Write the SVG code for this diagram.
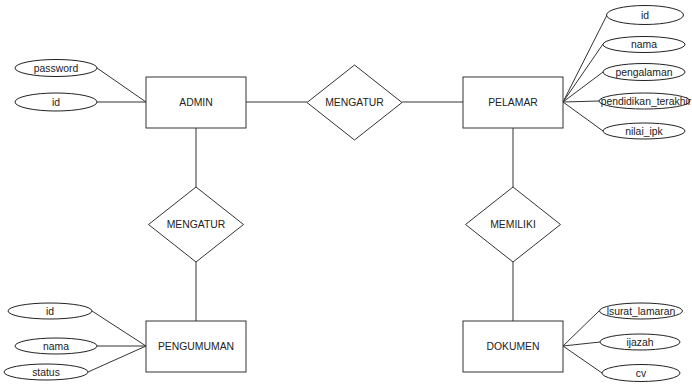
<svg xmlns="http://www.w3.org/2000/svg" width="692" height="385" viewBox="0 0 692 385">
<style>
.ent{fill:#fff;stroke:#333;stroke-width:1}
.rel{fill:#fff;stroke:#333;stroke-width:1}
.att{fill:#fff;stroke:#222;stroke-width:1}
.al{stroke:#333;stroke-width:1;fill:none}
.cl{stroke:#777;stroke-width:1.5;fill:none}
text{font-family:"Liberation Sans",Arial,sans-serif;font-size:10.4px;fill:#222;text-anchor:middle;dominant-baseline:central}
</style>
<rect width="692" height="385" fill="#fff"/>
<g id="connectors">
<line class="cl" x1="246" y1="102" x2="307" y2="102"/>
<line class="cl" x1="402" y1="102" x2="463" y2="102"/>
<line class="cl" x1="196" y1="128" x2="196" y2="187"/>
<line class="cl" x1="196" y1="262" x2="196" y2="321"/>
<line class="cl" x1="513" y1="128" x2="513" y2="187"/>
<line class="cl" x1="513" y1="262" x2="513" y2="321"/>
<line class="al" x1="97" y1="68" x2="146" y2="102"/>
<line class="al" x1="97" y1="102" x2="146" y2="102"/>
<line class="al" x1="563" y1="102" x2="607" y2="15"/>
<line class="al" x1="563" y1="102" x2="603" y2="44"/>
<line class="al" x1="563" y1="102" x2="603" y2="72"/>
<line class="al" x1="563" y1="102" x2="599" y2="101"/>
<line class="al" x1="563" y1="102" x2="603" y2="131"/>
<line class="al" x1="92" y1="311" x2="146" y2="346"/>
<line class="al" x1="97" y1="346" x2="146" y2="346"/>
<line class="al" x1="88" y1="372" x2="146" y2="346"/>
<line class="al" x1="563" y1="346" x2="599" y2="311"/>
<line class="al" x1="563" y1="346" x2="600" y2="342"/>
<line class="al" x1="563" y1="346" x2="602" y2="373"/>
</g>
<g id="admin"><rect class="ent" x="146" y="77" width="100" height="51"/><text x="196" y="102">ADMIN</text></g>
<g id="pelamar"><rect class="ent" x="463" y="77" width="100" height="51"/><text x="513" y="102">PELAMAR</text></g>
<g id="pengumuman"><rect class="ent" x="146" y="321" width="100" height="51"/><text x="196" y="346">PENGUMUMAN</text></g>
<g id="dokumen"><rect class="ent" x="463" y="321" width="100" height="51"/><text x="513" y="346">DOKUMEN</text></g>
<g id="rel-mengatur-1"><polygon class="rel" points="354.5,65 402,102.5 354.5,140 307,102.5"/><text x="354.5" y="102">MENGATUR</text></g>
<g id="rel-mengatur-2"><polygon class="rel" points="196,187 243.5,224.5 196,262 148.5,224.5"/><text x="196" y="224">MENGATUR</text></g>
<g id="rel-memiliki"><polygon class="rel" points="513,187 560.5,224.5 513,262 465.5,224.5"/><text x="513" y="224">MEMILIKI</text></g>
<g id="attr-admin-password"><ellipse class="att" cx="56" cy="68" rx="41" ry="8.5"/><text x="56" y="68">password</text></g>
<g id="attr-admin-id"><ellipse class="att" cx="56" cy="102" rx="41" ry="9"/><text x="56" y="102">id</text></g>
<g id="attr-pelamar-id"><ellipse class="att" cx="645" cy="15" rx="38.5" ry="9.5"/><text x="645" y="15">id</text></g>
<g id="attr-pelamar-nama"><ellipse class="att" cx="644" cy="44.5" rx="41" ry="8"/><text x="644" y="44.5">nama</text></g>
<g id="attr-pelamar-pengalaman"><ellipse class="att" cx="644" cy="72" rx="41" ry="8.5"/><text x="644" y="72">pengalaman</text></g>
<g id="attr-pelamar-pendidikan"><ellipse class="att" cx="644.5" cy="101" rx="45.5" ry="8"/><text x="646" y="101">pendidikan_terakhir</text></g>
<g id="attr-pelamar-nilai"><ellipse class="att" cx="644" cy="131" rx="41" ry="8"/><text x="644" y="131">nilai_ipk</text></g>
<g id="attr-peng-id"><ellipse class="att" cx="50" cy="311" rx="42" ry="8"/><text x="50" y="311">id</text></g>
<g id="attr-peng-nama"><ellipse class="att" cx="56" cy="346" rx="41" ry="8"/><text x="56" y="346">nama</text></g>
<g id="attr-peng-status"><ellipse class="att" cx="46" cy="372" rx="42" ry="8"/><text x="46" y="372">status</text></g>
<g id="attr-dok-surat"><ellipse class="att" cx="641" cy="311" rx="41.5" ry="8"/><text x="641" y="311">lsurat_lamaran</text></g>
<g id="attr-dok-ijazah"><ellipse class="att" cx="640" cy="342" rx="40" ry="8"/><text x="640" y="342">ijazah</text></g>
<g id="attr-dok-cv"><ellipse class="att" cx="641" cy="373" rx="39" ry="8.5"/><text x="641" y="373">cv</text></g>
</svg>
